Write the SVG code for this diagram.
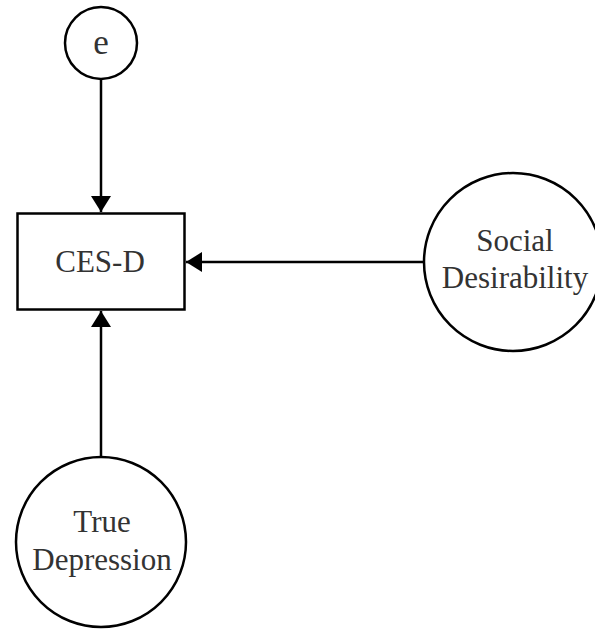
<svg xmlns="http://www.w3.org/2000/svg" width="595" height="629" viewBox="0 0 595 629">
<style>
.n{fill:#fff;stroke:#000;stroke-width:2.5}
.t{font-family:"Liberation Serif",serif;font-size:31px;fill:#333;text-anchor:middle}
.c{stroke:#000;stroke-width:2.5;fill:none}
</style>
<defs>
<marker id="a" markerWidth="20" markerHeight="20" viewBox="0 0 16 20" refX="16" refY="10" orient="auto" markerUnits="userSpaceOnUse">
<path d="M0,0 L16,10 L0,20 Z" fill="#000"/>
</marker>
</defs>
<rect width="595" height="629" fill="#fff"/>
<g id="connectors">
<line class="c" x1="101" y1="79" x2="101" y2="212" marker-end="url(#a)"/>
<line class="c" x1="424" y1="262" x2="186" y2="262" marker-end="url(#a)"/>
<line class="c" x1="101" y1="457" x2="101" y2="311" marker-end="url(#a)"/>
</g>
<g id="e">
<circle class="n" cx="101" cy="43" r="36"/>
<text class="t" x="101" y="54" style="font-size:35px">e</text>
</g>
<g id="cesd">
<rect class="n" x="17.5" y="213.5" width="167" height="96" stroke-width="3"/>
<text class="t" x="100" y="272">CES-D</text>
</g>
<g id="social">
<circle class="n" cx="513" cy="262" r="89"/>
<text class="t" x="515" y="251">Social</text>
<text class="t" x="515" y="288">Desirability</text>
</g>
<g id="truedep">
<circle class="n" cx="101" cy="542" r="85"/>
<text class="t" x="102" y="532">True</text>
<text class="t" x="102" y="570">Depression</text>
</g>
</svg>
